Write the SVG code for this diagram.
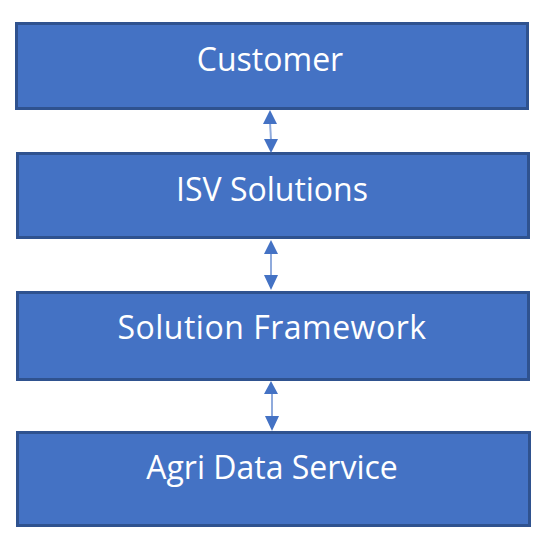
<svg xmlns="http://www.w3.org/2000/svg" width="552" height="547" viewBox="0 0 552 547">
<defs>
<style>
.box{fill:#4472C4;stroke:#2F528F;stroke-width:3}
.lbl{fill:#FFFFFF;font-family:"Open Sans","Noto Sans",sans-serif;font-size:32px;text-anchor:middle;dominant-baseline:central}
.conn{stroke:#8FAADC;stroke-width:2;fill:none}
.head{fill:#4472C4}
</style>
</defs>
<rect width="552" height="547" fill="#FFFFFF"/>
<g id="customer"><rect class="box" x="16.5" y="23.5" width="511" height="85"/><text class="lbl" x="270" y="58">Customer</text></g>
<g id="isv"><rect class="box" x="17.5" y="153.5" width="511" height="84"/><text class="lbl" x="272" y="188">ISV Solutions</text></g>
<g id="framework"><rect class="box" x="17.5" y="292.5" width="511" height="87"/><text class="lbl" x="272" y="326" letter-spacing="0.5">Solution Framework</text></g>
<g id="agri"><rect class="box" x="17.5" y="432.5" width="512" height="93"/><text class="lbl" x="272" y="466">Agri Data Service</text></g>
<g id="connectors">
<line class="conn" x1="270" y1="122" x2="271" y2="140"/>
<polygon class="head" points="270,110 263,124 277,124"/>
<polygon class="head" points="271,153 264,139 278,139"/>
<line class="conn" x1="271" y1="252" x2="271" y2="276"/>
<polygon class="head" points="271,240 264,254 278,254"/>
<polygon class="head" points="271,290 264,275 278,275"/>
<line class="conn" x1="272" y1="392" x2="272" y2="416"/>
<polygon class="head" points="271,381 264,394 278,394"/>
<polygon class="head" points="272,431 265,416 279,416"/>
</g>
</svg>
